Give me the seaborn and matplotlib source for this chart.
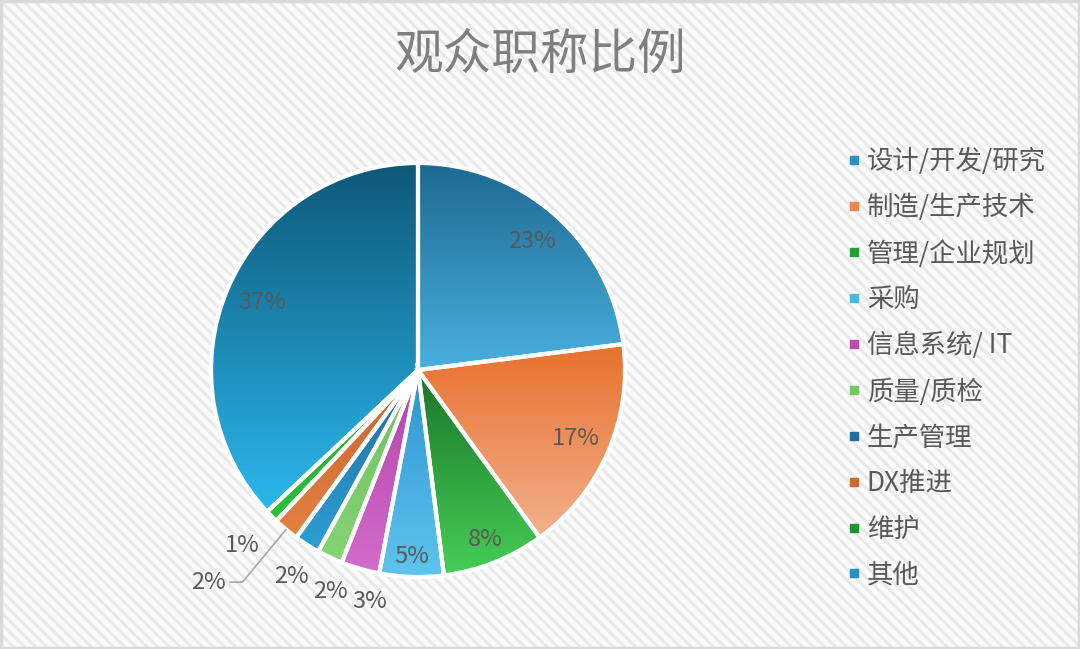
import numpy as np
import matplotlib
matplotlib.use("Agg")
import matplotlib.pyplot as plt
from matplotlib.colors import LinearSegmentedColormap
from matplotlib.patches import Rectangle
import seaborn as sns

sns.set_style("white")
plt.rcParams['font.family'] = ['Noto Sans CJK SC', 'DejaVu Sans']
plt.rcParams['hatch.linewidth'] = 2.2
plt.rcParams['hatch.color'] = '#e9e9e9'

title = "观众职称比例"
categories = ["设计/开发/研究", "制造/生产技术", "管理/企业规划", "采购", "信息系统/ IT",
              "质量/质检", "生产管理", "DX推进", "维护", "其他"]
values = [23, 17, 8, 5, 3, 2, 2, 2, 1, 37]

top_colors = ["#1d6991", "#e8702c", "#1a7529", "#2e93cf", "#b043a8",
              "#6cbf5c", "#1a6d9c", "#c7602a", "#1ea52c", "#0e5878"]
bottom_colors = ["#49b0df", "#f2b08c", "#46ce56", "#5ec4ef", "#d36ccb",
                 "#86d475", "#2f9fd6", "#e38245", "#2cc03a", "#2cb8ee"]
legend_colors = ["#2f8fc2", "#ee8650", "#289a38", "#48b6e6", "#b94bb1",
                 "#74c664", "#1c6f9e", "#cb6a35", "#20952e", "#2a90c4"]

W, H = 1080, 649
fig = plt.figure(figsize=(W / 100, H / 100), dpi=100)
fig.patch.set_facecolor("white")

# hatched background with border
bg = Rectangle((0, 0), 1, 1, transform=fig.transFigure, facecolor="#fbfbfb",
               edgecolor="#e9e9e9", hatch="\\\\\\", linewidth=0, zorder=-10)
fig.patches.append(bg)
border = Rectangle((0.001, 0.002), 0.998, 0.996, transform=fig.transFigure, facecolor="none",
                   edgecolor="#d9d9d9", linewidth=2.5, zorder=-5)
fig.patches.append(border)

cx, cy, R = 418, 370, 207
lim = 1.35
half = lim * R
ax = fig.add_axes([(cx - half) / W, (H - cy - half) / H, 2 * half / W, 2 * half / H])
ax.set_xlim(-lim, lim)
ax.set_ylim(-lim, lim)
ax.set_aspect("equal")
ax.axis("off")
ax.patch.set_alpha(0)

wedges, _ = ax.pie(values, startangle=90, counterclock=False, radius=1,
                   colors=legend_colors, wedgeprops=dict(linewidth=0))

for w, ct, cb in zip(wedges, top_colors, bottom_colors):
    ext = w.get_path().get_extents()
    cmap = LinearSegmentedColormap.from_list("g", [ct, cb])
    grad = np.linspace(0, 1, 256).reshape(-1, 1)
    im = ax.imshow(grad, cmap=cmap, extent=[ext.x0, ext.x1, ext.y0, ext.y1],
                   origin="upper", aspect="auto", zorder=2, interpolation="bilinear")
    im.set_clip_path(w)

ax.pie(values, startangle=90, counterclock=False, radius=1,
       wedgeprops=dict(facecolor="none", edgecolor="white", linewidth=3, zorder=5))
ax.set_xlim(-lim, lim)
ax.set_ylim(-lim, lim)

label_color = "#595959"
lab_kw = dict(fontsize=17, color=label_color, fontweight="light", zorder=6)
inside_r = [0.83, 0.83, 0.88, 0.90, None, None, None, None, None, 0.82]
outside = {4: (1.14, 4.5), 5: (1.15, 3.7), 6: (1.17, 1.0), 8: (1.2, 0.0)}
for i, (w, v) in enumerate(zip(wedges, values)):
    mid = np.deg2rad((w.theta1 + w.theta2) / 2)
    txt = f"{v}%"
    if inside_r[i] is not None:
        r = inside_r[i]
        ax.text(r * np.cos(mid), r * np.sin(mid), txt, ha="center", va="center", **lab_kw)
    elif i in outside:
        r, shift = outside[i]
        a = mid + np.deg2rad(shift)
        ax.text(r * np.cos(a), r * np.sin(a), txt, ha="center", va="center", **lab_kw)
    else:
        x0, y0 = np.cos(mid), np.sin(mid)
        x1, y1 = 1.33 * np.cos(mid), 1.33 * np.sin(mid)
        x2 = x1 - 0.06
        ax.plot([x0, x1, x2], [y0, y1, y1], color="#a6a6a6", lw=1.2, zorder=6,
                solid_joinstyle="miter")
        ax.text(x2 - 0.02, y1, txt, ha="right", va="center", **lab_kw)

fig.text(540 / W, 1 - 55 / H, title, ha="center", va="center", fontsize=35, color="#7f7f7f")

# legend
handles = [plt.Line2D([], [], marker="s", linestyle="none", markersize=5.5,
                      markerfacecolor=c, markeredgecolor=c) for c in legend_colors]
leg = fig.legend(handles, categories, loc="upper left", bbox_to_anchor=(822 / W, 1 - 124 / H),
                 frameon=False, fontsize=19, labelspacing=0.71, handletextpad=0.2,
                 handlelength=0.6, borderpad=0.4)
for t in leg.get_texts():
    t.set_color("#595959")

fig.savefig("out.png", dpi=100, facecolor=fig.get_facecolor())
